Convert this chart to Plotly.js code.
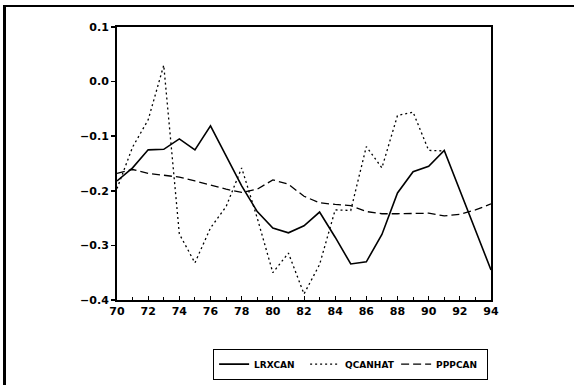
<!DOCTYPE html>
<html>
<head>
<meta charset="utf-8">
<script src="https://cdn.plot.ly/plotly-3.0.1.min.js"></script>
<style>
  html, body { margin: 0; padding: 0; background: #fff; }
  #frame { position: absolute; left: 3px; top: 5px; width: 571px; height: 380px;
           border-left: 3px solid #000; border-top: 2px solid #000; box-sizing: border-box; pointer-events: none; }
  #chart { position: absolute; left: 0; top: 0; width: 574px; height: 385px; }
</style>
</head>
<body>
<div id="chart"></div>
<div id="frame"></div>
<script>
const years = [70,71,72,73,74,75,76,77,78,79,80,81,82,83,84,85,86,87,88,89,90,91,92,93,94];
const lrxcan = [-0.182,-0.158,-0.125,-0.124,-0.105,-0.125,-0.081,-0.137,-0.191,-0.238,-0.268,-0.277,-0.264,-0.239,-0.285,-0.334,-0.330,-0.280,-0.204,-0.165,-0.155,-0.126,-0.199,-0.272,-0.345];
const qcanhatYears = [70,71,72,73,74,75,76,77,78,79,80,81,82,83,84,85,86,87,88,89,90,91];
const qcanhat = [-0.196,-0.120,-0.070,0.030,-0.279,-0.332,-0.268,-0.229,-0.158,-0.250,-0.350,-0.314,-0.389,-0.335,-0.235,-0.236,-0.119,-0.158,-0.062,-0.056,-0.126,-0.127];
const pppcan = [-0.168,-0.161,-0.168,-0.172,-0.175,-0.182,-0.190,-0.197,-0.203,-0.197,-0.180,-0.188,-0.210,-0.222,-0.225,-0.227,-0.238,-0.242,-0.242,-0.242,-0.241,-0.246,-0.243,-0.235,-0.224];
const seriesNames = ['LRXCAN','QCANHAT','PPPCAN'];
const xTickVals = [70,72,74,76,78,80,82,84,86,88,90,92,94];
const yTickVals = [-0.4,-0.3,-0.2,-0.1,0.0,0.1];

const fontFam = 'DejaVu Sans, Arial, sans-serif';
const traces = [
  {x: years, y: lrxcan, name: seriesNames[0], mode: 'lines', line: {color: '#000', width: 1.6}},
  {x: qcanhatYears, y: qcanhat, name: seriesNames[1], mode: 'lines', line: {color: '#000', width: 1.3, dash: '2px,3px'}},
  {x: years, y: pppcan, name: seriesNames[2], mode: 'lines', line: {color: '#000', width: 1.3, dash: '8px,4px'}}
];

const layout = {
  width: 574, height: 385,
  margin: {l: 117, r: 83, t: 27, b: 85, autoexpand: false},
  paper_bgcolor: '#fff', plot_bgcolor: '#fff',
  font: {family: fontFam, color: '#000', size: 11, weight: 'bold'},
  showlegend: true,
  legend: {
    orientation: 'h', x: 0.257, xanchor: 'left', y: -0.178, yanchor: 'top',
    bordercolor: '#000', borderwidth: 1, bgcolor: '#fff',
    font: {family: fontFam, size: 9, color: '#000', weight: 'bold'},
    itemwidth: 30, entrywidth: 46, entrywidthmode: 'pixels',
    tracegroupgap: 0
  },
  xaxis: {
    range: [70, 94], tickvals: xTickVals, tickformat: 'd', automargin: false,
    showgrid: false, zeroline: false,
    showline: true, linecolor: '#000', linewidth: 2, mirror: true,
    ticks: 'inside', ticklen: 4, tickwidth: 1, tickcolor: '#000',
    minor: {dtick: 1, tick0: 70, ticks: 'inside', ticklen: 3, tickwidth: 1, tickcolor: '#000', showgrid: false},
    tickfont: {family: fontFam, size: 11, color: '#000', weight: 'bold'}
  },
  yaxis: {
    range: [-0.4, 0.1], tickvals: yTickVals, tickformat: '.1f', automargin: false,
    showgrid: false, zeroline: false,
    showline: true, linecolor: '#000', linewidth: 2, mirror: true,
    ticks: 'outside', ticklen: 4, tickwidth: 1.5, tickcolor: '#000',
    tickfont: {family: fontFam, size: 11, color: '#000', weight: 'bold'}
  }
};

Plotly.newPlot('chart', traces, layout, {displayModeBar: false, staticPlot: true});
</script>
</body>
</html>
